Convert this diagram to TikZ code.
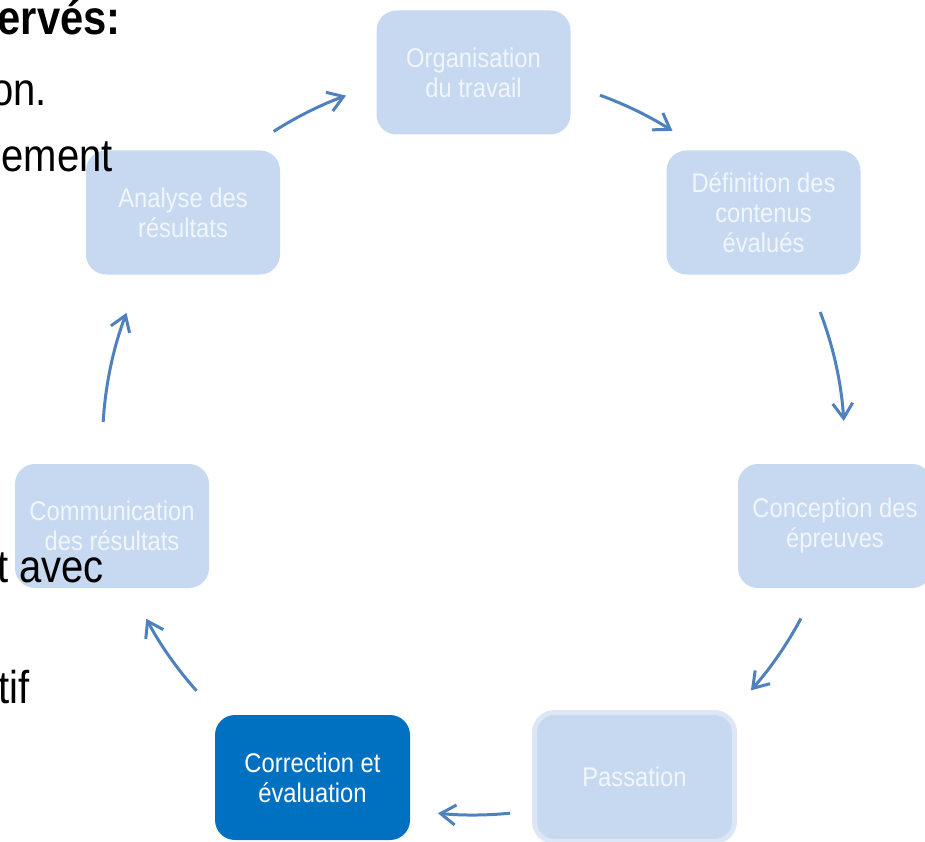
\documentclass[tikz,border=0pt]{standalone}
\usepackage{fontspec}
\setmainfont{Liberation Sans}
\newfontfamily\boxfont{Liberation Sans}[FakeStretch=0.88]
\newfontfamily\bgfont{Liberation Sans}[FakeStretch=0.87]
\usetikzlibrary{arrows.meta}
\definecolor{boxblue}{HTML}{C6D9F1}
\definecolor{boxtext}{HTML}{F2F6FC}
\definecolor{darkbox}{HTML}{0070C0}
\definecolor{passborder}{HTML}{DCE6F4}
\definecolor{arrowblue}{HTML}{4F81BD}
\begin{document}
\begin{tikzpicture}[x=1pt,y=1pt,
  stagebox/.style={rectangle, rounded corners=20pt, fill=boxblue, text=boxtext,
    minimum width=194pt, minimum height=124pt, inner sep=0pt, align=center,
    font=\boxfont\fontsize{27}{30}\selectfont},
  activebox/.style={stagebox, fill=darkbox, text=white, minimum width=195pt, minimum height=125pt},
  passbox/.style={stagebox, draw=passborder, line width=5pt, minimum width=200pt, minimum height=129pt},
  bgtext/.style={anchor=base east, inner sep=0pt, text=black, font=\bgfont\fontsize{46}{52}\selectfont},
  cyclearrow/.style={draw=arrowblue, line width=3pt, -{Straight Barb[length=15pt,width=20pt,line width=3pt]}}]
\path[use as bounding box] (0,0) rectangle (925,-842);
\clip (0,0) rectangle (925,-842);

% stage boxes
\node[stagebox] (org) at (473.5,-72.5) {Organisation\\du travail};
\node[stagebox] (def) at (763.5,-212.5) {Définition des\\contenus\\évalués};
\node[stagebox] (conc) at (835,-526) {Conception des\\épreuves};
\node[passbox] (pass) at (634.5,-777) {Passation};
\node[activebox] (corr) at (312.5,-777.5) {Correction et\\évaluation};
\node[stagebox] (comm) at (112,-526) {Communication\\des résultats};
\node[stagebox] (anal) at (183,-212.5) {Analyse des\\résultats};

% background slide text (partly hidden)
\node[bgtext, font=\bgfont\bfseries\fontsize{48}{54}\selectfont] (t1) at (121,-35) {ervés:};
\node[bgtext] (t2) at (47,-106) {on.};
\node[bgtext] (t3) at (113,-172) {ement};
\node[bgtext] (t4) at (104,-582) {t avec};
\node[bgtext] (t5) at (30,-703) {tif};

% cycle arrows along a circle
\coordinate (c) at (473.5,-444);
\path (c) ++(122.6:371) coordinate (a1);
\path (c) ++(70.08:371) coordinate (a2);
\path (c) ++(20.85:371) coordinate (a3);
\path (c) ++(-28.05:371) coordinate (a4);
\path (c) ++(-84.35:371) coordinate (a5);
\path (c) ++(-138.3:371) coordinate (a6);
\path (c) ++(176.6:371) coordinate (a7);
\draw[cyclearrow] (a1) arc[start angle=122.6, end angle=110.1, radius=371];
\draw[cyclearrow] (a2) arc[start angle=70.08, end angle=57.57, radius=371];
\draw[cyclearrow] (a3) arc[start angle=20.85, end angle=3.56, radius=371];
\draw[cyclearrow] (a4) arc[start angle=-28.05, end angle=-41.6, radius=371];
\draw[cyclearrow] (a5) arc[start angle=-84.35, end angle=-95.5, radius=371];
\draw[cyclearrow] (a6) arc[start angle=-138.3, end angle=-151.9, radius=371];
\draw[cyclearrow] (a7) arc[start angle=176.6, end angle=159.3, radius=371];
\end{tikzpicture}
\end{document}
